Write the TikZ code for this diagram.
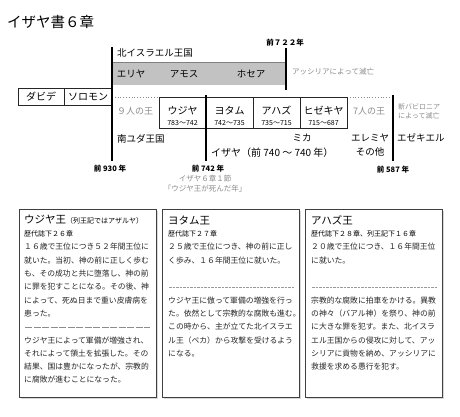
\documentclass[tikz,border=0pt]{standalone}
\usepackage{fontspec}
\setmainfont{Noto Sans CJK JP}
\usetikzlibrary{shadows}
\tikzset{lbl/.style={
    inner sep=0pt,
    font=\fontsize{9.5}{11}\selectfont
  },
  graylbl/.style={lbl,text=black!45},
  yearlbl/.style={lbl,font=\fontsize{7.5}{9}\selectfont\bfseries},
  kingbox/.style={
    rectangle,
    draw=black!85,
    line width=0.8pt,
    minimum width=47pt,
    minimum height=31pt,
    inner sep=0pt
  },
  reign/.style={lbl,font=\fontsize{7}{8}\selectfont},
  eraline/.style={line width=2.4pt,black},
  infobox/.style={
    rectangle,
    draw=black!75,
    line width=1pt,
    fill=white,
    anchor=north west,
    minimum width=137pt,
    minimum height=188pt,
    drop shadow={shadow xshift=1pt,shadow yshift=-1pt,opacity=0.3}
  },
  boxtitle/.style={lbl,anchor=west,font=\fontsize{10.5}{12}\selectfont},
  boxref/.style={lbl,anchor=west,font=\fontsize{7}{8}\selectfont},
  bodyline/.style={lbl,anchor=west,text=black!85,font=\fontsize{7.8}{9}\selectfont},
}

\begin{document}
\begin{tikzpicture}[x=1pt,y=-1pt]
  \fill[white] (0,0) rectangle (460,417);
  \useasboundingbox (0,0) rectangle (460,417);

  \node[lbl,anchor=west,font=\fontsize{14.5}{16}\selectfont] (title) at (7,22) {イザヤ書６章};

  % northern kingdom
  \fill[black!24] (112,62) rectangle (286,85);
  \draw[black!50] (112,62) -- (286,62);
  \node[lbl,anchor=west] (north) at (117,53) {北イスラエル王国};
  \node[lbl] (elijah) at (131,74) {エリヤ};
  \node[lbl] (amos) at (184,74) {アモス};
  \node[lbl] (hosea) at (251,74) {ホセア};
  \node[graylbl,anchor=west,font=\fontsize{7.5}{9}\selectfont] (assyria) at (292,72) {アッシリアによって滅亡};
  \node[yearlbl] (y722) at (285,43) {前７２２年};
  \draw[eraline] (286,48) -- (286,90);

  % united kingdom
  \node[kingbox,minimum width=46pt,minimum height=17pt] (david) at (41,96.5) {ダビデ};
  \node[kingbox,minimum width=48pt,minimum height=17pt] (solomon) at (88,96.5) {ソロモン};

  % southern kingdom
  \draw[black!45,dotted,line width=0.8pt] (112,97) -- (159,97);
  \draw[black!45,dotted,line width=0.8pt] (347,97) -- (393,97);
  \node[graylbl,font=\fontsize{9}{11}\selectfont] (nine) at (135,111) {９人の王};
  \node[graylbl,font=\fontsize{9}{11}\selectfont] (seven) at (369,111) {7人の王};
  \foreach \nm/\yr/\cx [count=\i] in {ウジヤ/783～742/182.5,ヨタム/742～735/229.5,アハズ/735～715/276.5,ヒゼキヤ/715～687/323.5}{
    \node[kingbox] (king\i) at (\cx,112.5) {};
    \node[lbl,font=\fontsize{10}{12}\selectfont] (kname\i) at (\cx,110.5) {\nm};
    \node[reign] (kyear\i) at (\cx,123) {\yr};
  }
  \node[graylbl,anchor=west,font=\fontsize{7}{8}\selectfont] (babylon1) at (398,107) {新バビロニア};
  \node[graylbl,anchor=west,font=\fontsize{7}{8}\selectfont] (babylon2) at (398,115.5) {によって滅亡};
  \node[lbl,anchor=west] (south) at (117,139) {南ユダ王国};
  \node[lbl] (micah) at (302,138) {ミカ};
  \node[lbl] (jeremiah) at (370,138) {エレミヤ};
  \node[lbl] (others) at (370,152) {その他};
  \node[lbl,anchor=west] (ezekiel) at (397,138) {エゼキエル};
  \node[lbl,anchor=west,font=\fontsize{10}{12}\selectfont] (isaiah) at (211,153) {イザヤ（前 740 ～ 740 年）};

  \draw[eraline] (112,47) -- (112,161);
  \draw[eraline] (206,95) -- (206,161);
  \draw[eraline] (393,95) -- (393,161);
  \node[yearlbl] (y930) at (110,169) {前 930 年};
  \node[yearlbl] (y742) at (208,168.5) {前 742 年};
  \node[yearlbl] (y587) at (393,170) {前 587 年};
  \node[graylbl,font=\fontsize{7.5}{9}\selectfont] (verse) at (205,179) {イザヤ６章１節};
  \node[graylbl,font=\fontsize{7.5}{9}\selectfont] (death) at (205,189) {「ウジヤ王が死んだ年」};

  % king boxes
  \node[infobox] (uzziah) at (19,209) {};
  \node[infobox] (jotham) at (162,209) {};
  \node[infobox] (ahaz) at (305,209) {};

  \node[boxtitle] (utitle) at (24,220) {ウジヤ王{\fontsize{7}{8}\selectfont （列王記ではアザルヤ）}};
  \node[boxref] (uref) at (24,234) {歴代誌下２６章};
  \foreach \ln [count=\i from 0] in {１６歳で王位につき５２年間王位に,就いた。当初、神の前に正しく歩む,も、その成功と共に堕落し、神の前,に罪を犯すことになる。その後、神,によって、死ぬ日まで重い皮膚病を,患った。,{},ウジヤ王によって軍備が増強され、,それによって領土を拡張した。その,結果、国は豊かになったが、宗教的,に腐敗が進むことになった。}
    \node[bodyline] (u\i) at (24,247+13.3*\i) {\ln};
  \draw[black!45,dash pattern=on 7pt off 1.5pt] (25,327) -- (150,327);

  \node[boxtitle] (jtitle) at (168,220) {ヨタム王};
  \node[boxref] (jref) at (168,234) {歴代誌下２７章};
  \foreach \ln [count=\i from 0] in {２５歳で王位につき、神の前に正し,く歩み、１６年間王位に就いた。,{},{},ウジヤ王に倣って軍備の増強を行っ,た。依然として宗教的な腐敗も進む。,この時から、主が立てた北イスラエ,ル王（ペカ）から攻撃を受けるよう,になる。}
    \node[bodyline] (j\i) at (168,247+13.3*\i) {\ln};
  \draw[black!40,dash pattern=on 2.5pt off 1pt] (169,287) -- (295,287);

  \node[boxtitle] (atitle) at (311,220) {アハズ王};
  \node[boxref] (aref) at (311,234) {歴代誌下２８章、列王記下１６章};
  \foreach \ln [count=\i from 0] in {２０歳で王位につき、１６年間王位,に就いた。,{},{},宗教的な腐敗に拍車をかける。異教,の神々（バアル神）を祭り、神の前,に大きな罪を犯す。また、北イスラ,エル王国からの侵攻に対して、アッ,シリアに貢物を納め、アッシリアに,救援を求める愚行を犯す。}
    \node[bodyline] (a\i) at (311,247+13.3*\i) {\ln};
  \draw[black!40,dash pattern=on 2.5pt off 1pt] (312,287) -- (438,287);
\end{tikzpicture}
\end{document}
